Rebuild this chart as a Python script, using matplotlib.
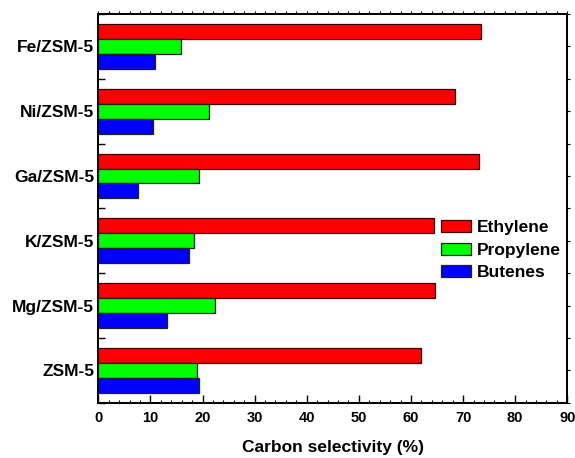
import numpy as np
import matplotlib.pyplot as plt
from matplotlib.ticker import MultipleLocator, FixedLocator

plt.rcParams['font.family'] = ['Liberation Sans', 'DejaVu Sans']
plt.rcParams['font.weight'] = 'bold'

# catalysts, bottom to top
catalysts = ['ZSM-5', 'Mg/ZSM-5', 'K/ZSM-5', 'Ga/ZSM-5', 'Ni/ZSM-5', 'Fe/ZSM-5']
ethylene = [62.0, 64.6, 64.4, 73.1, 68.5, 73.4]
propylene = [18.9, 22.4, 18.4, 19.4, 21.3, 15.9]
butenes = [19.4, 13.2, 17.4, 7.7, 10.4, 10.8]

series = [('Ethylene', ethylene, '#ff0000'),
          ('Propylene', propylene, '#00ff00'),
          ('Butenes', butenes, '#0000ff')]

fig = plt.figure(figsize=(5.75, 4.58), dpi=100)
ax = fig.add_axes([0.171, 0.1207, 0.8156, 0.8487])

y = np.arange(len(catalysts))
h = 0.23
for k, (name, vals, col) in enumerate(series):
    ax.barh(y + (1 - k) * h, vals, height=h, color=col, edgecolor='#3a0000' if k == 0 else '#202020',
            linewidth=0.9, label=name, zorder=3)

ax.set_xlim(0, 90)
ax.set_ylim(-0.5, len(catalysts) - 0.5)

ax.xaxis.set_major_locator(MultipleLocator(10))
ax.xaxis.set_minor_locator(MultipleLocator(2))
ax.set_yticks(y)
ax.set_yticklabels(catalysts, fontsize=12.5, fontweight='bold')
ax.yaxis.set_minor_locator(FixedLocator(np.arange(-0.5, len(catalysts), 1.0)))

ax.tick_params(axis='x', which='major', direction='in', length=5.5, width=1, labelsize=10.5, pad=6)
ax.tick_params(axis='x', which='minor', direction='in', length=2.5, width=0.8)
ax.tick_params(axis='y', which='major', direction='in', length=0, pad=3)
ax.tick_params(axis='y', which='minor', direction='in', length=5, width=1)

for lab in ax.get_xticklabels():
    lab.set_fontweight('bold')

# tiny outward ticks on top and right frame
top = ax.twiny()
top.set_xlim(ax.get_xlim())
top.xaxis.set_major_locator(MultipleLocator(2))
top.tick_params(axis='x', direction='out', length=2, width=0.8, labeltop=False)
right = ax.twinx()
right.set_ylim(ax.get_ylim())
right.yaxis.set_major_locator(FixedLocator(np.arange(-0.5, len(catalysts), 0.5)))
right.tick_params(axis='y', direction='out', length=2, width=0.8, labelright=False)

for a in (ax, top, right):
    for sp in a.spines.values():
        sp.set_linewidth(1.2)

ax.set_xlabel('Carbon selectivity (%)', fontsize=12.5, fontweight='bold', labelpad=11)

ax.legend(loc='upper left', bbox_to_anchor=(0.767, 0.519), bbox_transform=fig.transFigure,
          frameon=False, fontsize=12.5, handlelength=1.7, handleheight=0.7,
          handletextpad=0.34, labelspacing=0.42, borderpad=0, borderaxespad=0)

fig.savefig('out.png', dpi=100)
